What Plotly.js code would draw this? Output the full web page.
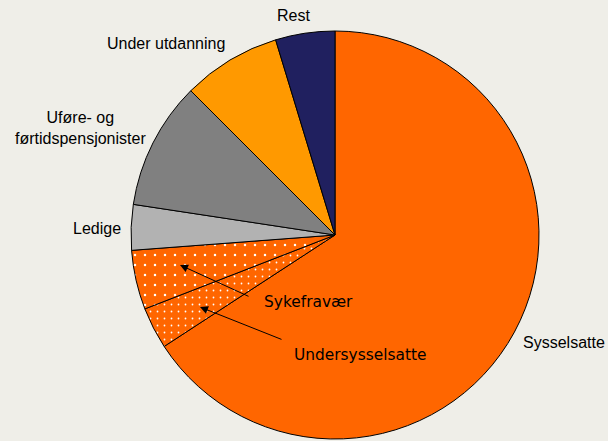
<!DOCTYPE html>
<html>
<head>
<meta charset="utf-8">
<script src="https://cdn.plot.ly/plotly-3.0.1.min.js"></script>
<style>html,body{margin:0;padding:0;background:#EFEEE8;}</style>
</head>
<body>
<div id="chart" style="width:608px;height:441px;"></div>
<script>
const categories = ["Sysselsatte", "Undersysselsatte", "Sykefravær", "Ledige", "Uføre- og førtidspensjonister", "Under utdanning", "Rest"];
const values = [65.8, 3.3, 4.7, 3.6, 10.1, 7.8, 4.7];
const colors = ["#FF6600", "#FF6600", "#FF6600", "#B2B2B2", "#808080", "#FF9900", "#20205F"];
const patternShapes = ["", ".", ".", "", "", "", ""];
const patternSizes = [8, 7, 10, 8, 8, 8, 8];

const W = 608, H = 441;
const cx = 335, cy = 235, r = 204;
const px = x => x / W;
const py = y => 1 - y / H;

const trace = {
  type: "pie",
  labels: categories,
  values: values,
  sort: false,
  direction: "clockwise",
  rotation: 0,
  textinfo: "none",
  hoverinfo: "label+percent",
  showlegend: false,
  marker: {
    colors: colors,
    line: {color: "#000000", width: 1},
    pattern: {
      shape: patternShapes,
      fgcolor: "#FFFFFF",
      bgcolor: colors,
      fillmode: "replace",
      size: patternSizes,
      solidity: 0.05
    }
  },
  domain: {x: [px(cx - r), px(cx + r)], y: [py(cy + r), py(cy - r)]}
};

const labelFont = {family: "Liberation Sans, Arial, sans-serif", size: 16, color: "#000000"};
const calloutFont = {family: "DejaVu Sans, Verdana, sans-serif", size: 15.4, color: "#000000"};

const annotations = [
  {text: "Rest", x: px(293), y: py(15), font: labelFont},
  {text: "Under utdanning", x: px(166), y: py(43), font: labelFont},
  {text: "Uføre- og<br>førtidspensjonister", x: px(80), y: py(128), font: labelFont, align: "center"},
  {text: "Ledige", x: px(97), y: py(228), font: labelFont},
  {text: "Sysselsatte", x: px(564), y: py(342), font: labelFont},
  {text: "Sykefravær", x: px(262), y: py(302), xanchor: "left", font: calloutFont},
  {text: "Undersysselsatte", x: px(292), y: py(355), xanchor: "left", font: calloutFont},
  {text: "", x: px(180), y: py(265), showarrow: true, ax: 70, ay: 32, arrowhead: 2, arrowsize: 1.6, arrowwidth: 1, arrowcolor: "#000000"},
  {text: "", x: px(200), y: py(307), showarrow: true, ax: 83, ay: 33, arrowhead: 2, arrowsize: 1.6, arrowwidth: 1, arrowcolor: "#000000"}
].map(a => Object.assign({xref: "paper", yref: "paper", showarrow: false, xanchor: "center", yanchor: "middle"}, a));

const layout = {
  width: W, height: H,
  margin: {l: 0, r: 0, t: 0, b: 0},
  paper_bgcolor: "#EFEEE8",
  plot_bgcolor: "#EFEEE8",
  annotations: annotations
};

Plotly.newPlot("chart", [trace], layout, {displayModeBar: false, staticPlot: true});
</script>
</body>
</html>
